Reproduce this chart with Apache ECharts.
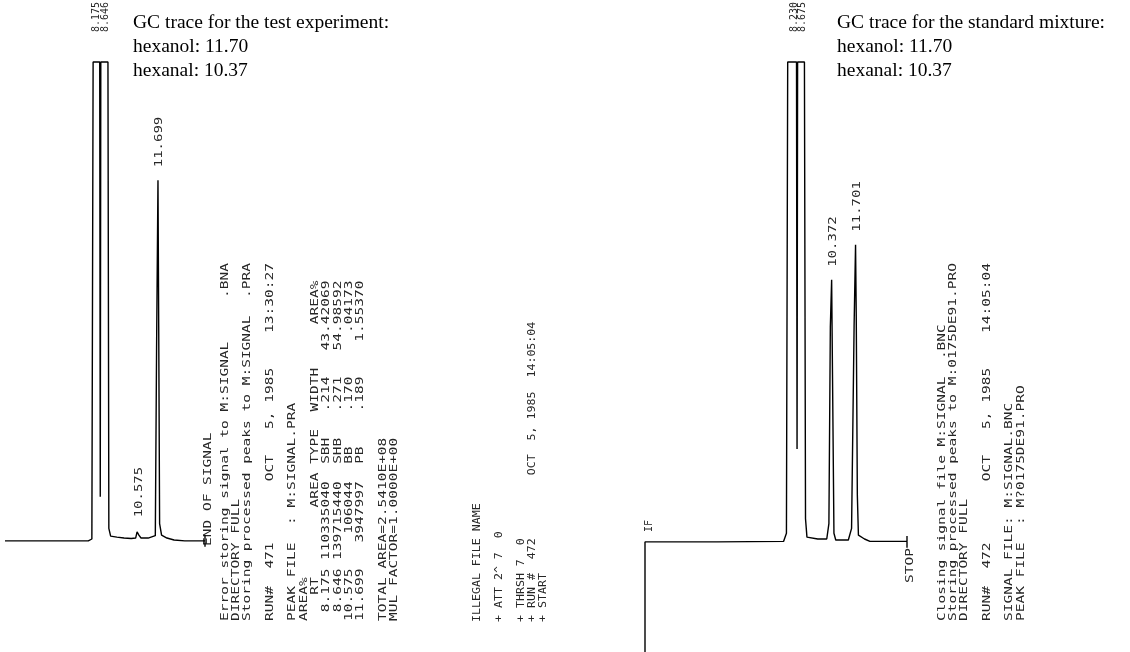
<!DOCTYPE html>
<html>
<head>
<meta charset="utf-8">
<title>GC traces</title>
<script src="https://cdn.jsdelivr.net/npm/echarts@6/dist/echarts.min.js"></script>
<style>
    html, body { margin: 0; padding: 0; background: #fff; }
    #chart { width: 1130px; height: 652px; }
</style>
</head>
<body>
<div id="chart"></div>
<script>
// test experiment trace: time (min) / pen signal (% of full scale)
const testTime   = [3.14, 7.80, 8.00, 8.07, 8.44, 8.47, 8.50, 8.90, 8.95, 9.05, 9.40, 9.80, 10.20, 10.45, 10.53, 10.575, 10.63, 10.75, 11.15, 11.55, 11.62, 11.699, 11.74, 11.79, 11.90, 12.20, 12.60, 13.20, 14.33, 14.33, 14.33];
const testSignal = [0.4, 0.4, 0.8, 100, 100, 9.6, 100, 100, 3, 1.4, 1.2, 1.0, 0.9, 1.0, 2.3, 2.6, 1.6, 1.0, 1.0, 1.5, 40, 75.4, 45, 4, 1.6, 1.0, 0.6, 0.4, 0.4, 1.6, -0.8];
const testPeakRT  = [8.175, 8.646, 10.575, 11.699];
const testPeakTop = [100, 100, 2.6, 75.4];

// standard mixture trace
const stdTime   = [0, 0, 4.0, 7.70, 7.86, 7.93, 8.42, 8.45, 8.48, 8.86, 8.92, 9.00, 9.60, 10.10, 10.22, 10.30, 10.372, 10.42, 10.50, 10.60, 11.30, 11.48, 11.62, 11.701, 11.74, 11.80, 11.86, 12.20, 12.50, 14.56, 14.56, 14.56];
const stdSignal = [-22.7, 0.2, 0.2, 0.3, 2, 100, 100, 19.5, 100, 100, 5, 1.2, 0.8, 0.8, 4, 45, 54.7, 35, 2, 0.6, 0.6, 3, 45, 62, 47, 10, 1.6, 0.8, 0.3, 0.3, 1.4, -1.0];
const stdPeakRT  = [8.230, 8.675, 10.372, 11.701];
const stdPeakTop = [100, 100, 54.7, 62];

// printer output
const testEnd = 'END OF SIGNAL';
const testReport = [
    'Error storing signal to M:SIGNAL     .BNA',
    'DIRECTORY FULL',
    'Storing processed peaks to M:SIGNAL  .PRA',
    '',
    'RUN#  471       OCT   5, 1985    13:30:27',
    '',
    'PEAK FILE  : M:SIGNAL.PRA',
    'AREA%',
    '   RT        AREA TYPE  WIDTH     AREA%',
    ' 8.175 110335040  SBH   .214   43.42069',
    ' 8.646 139715440  SHB   .271   54.98592',
    '10.575    106044  BB    .170     .04173',
    '11.699   3947997  PB    .189    1.55370',
    '',
    'TOTAL AREA=2.5410E+08',
    'MUL FACTOR=1.0000E+00'
];
const runLines = [
    'ILLEGAL FILE NAME',
    '',
    '+ ATT 2^ 7  0',
    '',
    '+ THRSH 7  0',
    '+ RUN #  472         OCT  5, 1985  14:05:04',
    '+ START'
];
const stdStart = 'IF';
const stdEnd = 'STOP';
const stdReport = [
    'Closing signal file M:SIGNAL  .BNC',
    'Storing processed peaks to M:0175DE91.PRO',
    'DIRECTORY FULL',
    '',
    'RUN#  472       OCT   5, 1985    14:05:04',
    '',
    'SIGNAL FILE: M:SIGNAL.BNC',
    'PEAK FILE  : M?0175DE91.PRO'
];

// hand-written notes
const testNotes = ['GC trace for the test experiment:', 'hexanol: 11.70', 'hexanal: 10.37'];
const stdNotes  = ['GC trace for the standard mixture:', 'hexanol: 11.70', 'hexanal: 10.37'];

const MONO = '10px "DejaVu Sans Mono"';
const SERIF = '19.5px "Liberation Serif"';

const chart = echarts.init(document.getElementById('chart'));

function zip(xs, ys) {
    return xs.map((x, i) => [x, ys[i]]);
}

function traceSeries(index, data) {
    return {
        type: 'line',
        xAxisIndex: index,
        yAxisIndex: index,
        data: data,
        showSymbol: false,
        symbol: 'none',
        clip: false,
        lineStyle: { color: '#000', width: 1.4 },
        silent: true
    };
}

chart.setOption({
    animation: false,
    backgroundColor: '#fff',
    grid: [
        { left: 5, top: 62, width: 200, height: 590 },
        { left: 645, top: 62, width: 262, height: 590 }
    ],
    xAxis: [
        { type: 'value', gridIndex: 0, min: 3.14, max: 14.33, show: false },
        { type: 'value', gridIndex: 1, min: 0, max: 14.56, show: false }
    ],
    yAxis: [
        { type: 'value', gridIndex: 0, min: -22.7, max: 100, show: false },
        { type: 'value', gridIndex: 1, min: -22.7, max: 100, show: false }
    ],
    series: [
        traceSeries(0, zip(testTime, testSignal)),
        traceSeries(1, zip(stdTime, stdSignal))
    ]
});

// rotated printer text, read bottom to top
function vtext(x, yBottom, text, stretch) {
    return {
        type: 'text',
        x: x,
        y: yBottom,
        rotation: Math.PI / 2,
        scaleX: stretch || 1.45,
        silent: true,
        style: {
            text: text,
            font: MONO,
            fill: '#262626',
            align: 'left',
            verticalAlign: 'middle',
            textAlign: 'left',
            textVerticalAlign: 'middle'
        }
    };
}

function block(lines, x0, pitch, yBottom, stretch) {
    const out = [];
    lines.forEach((s, i) => {
        if (s) out.push(vtext(x0 + i * pitch, yBottom, s, stretch));
    });
    return out;
}

function notes(lines, x0, y0) {
    return lines.map((s, i) => ({
        type: 'text',
        x: x0,
        y: y0 + i * 24,
        silent: true,
        style: {
            text: s, font: SERIF, fill: '#000',
            align: 'left', verticalAlign: 'middle',
            textAlign: 'left', textVerticalAlign: 'middle'
        }
    }));
}

// retention time labels above each peak, placed through the axes
function peakLabels(gridIndex, rts, tops) {
    return rts.map((rt, i) => {
        const p = chart.convertToPixel({ gridIndex: gridIndex }, [rt, tops[i]]);
        const clipped = tops[i] >= 100;
        return vtext(p[0] + 1.5, p[1] - (clipped ? 30 : 13), rt.toFixed(3), clipped ? 1.0 : 1.4);
    });
}

const graphics = [].concat(
    peakLabels(0, testPeakRT, testPeakTop),
    peakLabels(1, stdPeakRT, stdPeakTop),
    [vtext(208, 546, testEnd)],
    block(testReport, 225, 11.3, 621),
    block(runLines, 477, 11, 622, 1.16),
    [vtext(649, 532, stdStart, 1.0), vtext(910, 583, stdEnd)],
    block(stdReport, 942, 11.3, 621),
    notes(testNotes, 133, 23),
    notes(stdNotes, 837, 23)
);

chart.setOption({ graphic: graphics });
</script>
</body>
</html>
